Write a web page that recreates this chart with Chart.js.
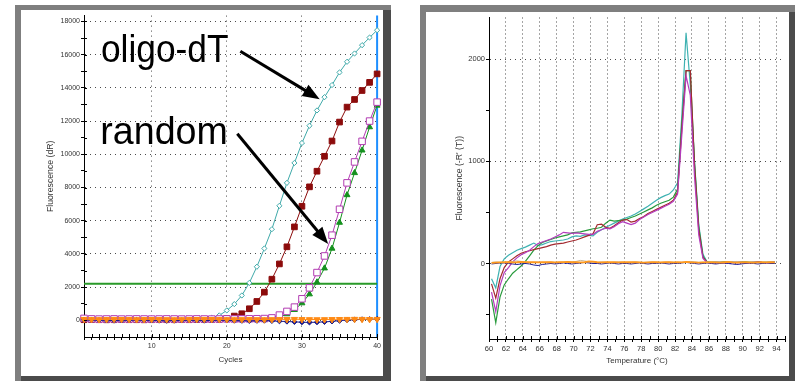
<!DOCTYPE html>
<html>
<head>
<meta charset="utf-8">
<script src="https://cdn.jsdelivr.net/npm/chart.js@4.4.1/dist/chart.umd.min.js"></script>
<style>
  html, body { margin: 0; padding: 0; background: #fff; width: 798px; height: 381px; overflow: hidden; }
  .frame { position: absolute; background: #7f7f7f; }
  .shade { position: absolute; background: #4b4b4b; }
  .paper { position: absolute; background: #fff; }
  canvas { position: absolute; left: 0; top: 0; }
</style>
</head>
<body>
<!-- amplification panel -->
<div class="frame" style="left:15px;top:5px;width:376px;height:376px"></div>
<div class="shade" style="left:383px;top:10px;width:8px;height:371px"></div>
<div class="shade" style="left:21px;top:376px;width:370px;height:5px"></div>
<div class="paper" style="left:21px;top:10px;width:362px;height:366px">
  <canvas id="amp" width="362" height="366"></canvas>
</div>
<!-- melt curve panel -->
<div class="frame" style="left:420px;top:5px;width:375px;height:376px"></div>
<div class="shade" style="left:789px;top:12px;width:6px;height:369px"></div>
<div class="shade" style="left:426px;top:376px;width:369px;height:5px"></div>
<div class="paper" style="left:426px;top:12px;width:363px;height:364px">
  <canvas id="melt" width="363" height="364"></canvas>
</div>

<script>
// ---------- amplification plot ----------
const cycles = [1,2,3,4,5,6,7,8,9,10,11,12,13,14,15,16,17,18,19,20,
                21,22,23,24,25,26,27,28,29,30,31,32,33,34,35,36,37,38,39,40];
const cycleLabels = [10, 20, 30, 40];
const cycleGrid = [10, 20, 30];
const ampTicks = [0,1000,2000,3000,4000,5000,6000,7000,8000,9000,10000,
                  11000,12000,13000,14000,15000,16000,17000,18000];
const ampLabels = [0,2000,4000,6000,8000,10000,12000,14000,16000,18000];

const ampOligoA = [50,55,50,45,50,55,50,50,45,50, 55,50,50,55,60,60,70,150,300,600,
                   980,1500,2260,3230,4330,5490,6900,8280,9480,10680,
                   11720,12640,13440,14170,14930,15570,16070,16570,17030,17470];
const ampOligoB = [40,45,40,35,40,45,40,40,35,40, 45,40,40,45,40,45,50,50,60,120,
                   260,400,700,1140,1700,2480,3400,4430,5630,6870,
                   8040,8980,9880,10800,11940,12840,13300,13840,14330,14840];
const ampRandomA = [120,90,80,85,90,80,85,90,85,80, 85,90,85,80,85,90,85,80,85,90,
                    85,90,95,100,110,150,320,540,800,1300,
                    1960,2880,3880,5130,6690,8280,9540,10780,12000,13140];
const ampRandomB = [50,55,50,45,50,55,50,45,50,55, 50,45,50,55,50,45,50,55,50,45,
                    50,55,50,55,60,80,200,380,640,1040,
                    1580,2300,3140,4330,5890,7550,8880,10240,11640,12940];
const ampNtcA = [70,60,55,60,70,65,60,55,60,65, 60,55,50,55,60,65,70,65,60,55,
                 50,55,60,55,50,55,60,65,70,60, 55,50,55,60,65,70,75,70,65,70];
const ampNtcB = [30,20,10,0,-10,0,10,20,10,0, -10,-20,-10,0,10,0,-10,0,10,0,
                 -10,-20,-30,-20,-10,-30,-50,-70,-90,-110, -120,-110,-90,-60,-20,20,40,60,70,80];
const threshold = 2200;
const lastCycle = 40;

// ---------- melt curve ----------
const temps = [60.3,60.8,61.3,61.8,62.3,62.8,63.3,63.8,64.3,64.8,
               65.3,65.8,66.3,66.8,67.3,67.8,68.3,68.8,69.3,69.8,
               70.3,70.8,71.3,71.8,72.3,72.8,73.3,73.8,74.3,74.8,
               75.3,75.8,76.3,76.8,77.3,77.8,78.3,78.8,79.3,79.8,
               80.3,80.8,81.3,81.8,82.3,82.8,83.3,83.8,84.3,84.8,
               85.3,85.8,86.3,86.8,87.3,87.8,88.3,88.8,89.3,89.8,
               90.3,90.8,91.3,91.8,92.3,92.8,93.3,93.8];
const tempTicks = [60,61,62,63,64,65,66,67,68,69,70,71,72,73,74,75,76,77,78,
                   79,80,81,82,83,84,85,86,87,88,89,90,91,92,93,94,95];
const tempLabels = [60,62,64,66,68,70,72,74,76,78,80,82,84,86,88,90,92,94];
const tempGrid = [62,64,66,68,70,72,74,76,78,80,82,84,86,88,90,92,94];
const meltTicks = [-500,0,500,1000,1500,2000];
const meltLabels = [0,1000,2000];

const meltOligoA = [-150,-240,-30,45,80,105,130,145,160,180,
                    200,175,185,200,215,220,225,230,240,260,
                    270,265,280,275,270,305,330,355,375,395,
                    415,435,450,465,485,510,535,560,590,620,
                    645,665,680,720,790,1450,2260,1750,1000,380,
                    90,15,12,10,12,15,12,10,12,15,
                    12,10,12,15,12,10,12,15];
const meltOligoB = [-200,-340,-150,-40,15,45,75,100,115,125,
                    135,145,155,165,180,190,195,200,210,220,
                    230,245,260,275,290,380,385,355,345,370,
                    400,425,430,405,415,440,460,490,510,530,
                    550,570,590,620,700,1320,1890,1890,960,330,
                    60,10,8,10,8,5,8,10,12,10,
                    8,5,10,15,10,8,10,12];
const meltRandomA = [-280,-470,-220,-90,-40,15,55,85,105,130,
                     165,195,210,225,240,260,280,305,300,295,
                     300,295,290,285,285,315,330,345,340,360,
                     390,410,395,380,395,430,455,480,500,520,
                     540,560,580,610,680,1260,1840,1650,850,280,
                     50,8,6,8,10,8,6,8,10,8,
                     6,8,10,12,8,6,8,10];
const meltRandomB = [-350,-580,-330,-210,-150,-95,-60,-25,20,75,
                     130,175,205,220,235,250,260,270,280,300,
                     305,310,320,330,340,345,355,395,425,415,
                     420,425,435,450,465,485,505,525,545,570,
                     590,605,620,650,730,1370,1890,1890,990,360,
                     70,12,10,12,10,15,12,10,8,12,
                     15,10,12,10,8,10,12,10];
const meltNtcA = [5,8,10,12,12,10,12,15,14,12,
                  12,10,12,14,12,10,12,14,15,12,
                  12,10,12,20,18,12,10,12,14,12,
                  10,12,14,12,12,10,8,10,12,12,
                  10,12,12,10,12,10,15,12,10,8,
                  10,10,12,10,8,12,15,10,8,10,
                  12,10,8,10,12,10,12,10];
const meltNtcB = [-5,0,5,5,0,-5,-10,-5,0,-5,
                  -15,-20,-10,-5,0,-5,0,5,0,-5,
                  0,5,10,5,0,0,-5,0,5,0,
                  -5,0,0,-5,0,5,0,-5,0,0,
                  5,0,-5,0,0,5,10,5,0,-5,
                  0,5,0,-5,0,5,0,-5,-10,-5,
                  0,5,0,-5,0,5,0,0];
const meltNtcC = [10,15,12,10,15,20,25,20,15,10,
                  12,15,10,12,15,10,12,15,18,15,
                  20,30,25,15,12,10,15,12,10,12,
                  15,12,10,12,15,12,10,12,15,12,
                  10,12,15,12,10,12,15,20,15,10,
                  12,15,10,12,15,12,10,15,20,15,
                  10,12,15,12,10,12,15,12];

// callouts on the amplification plot, in data units (cycle, dR)
const callouts = [
  { text: 'oligo-dT', at: [3.26, 15580], from: [21.8, 16200], to: [32.36, 13320] },
  { text: 'random',   at: [3.17, 10640], from: [21.4, 11240], to: [33.49, 4600] }
];

// ---------- helpers ----------
const FONT = '"Liberation Sans", Arial, Helvetica, sans-serif';
const pts = (xs, ys) => xs.map((x, i) => ({ x: x, y: ys[i] }));

// tick marks that cross the axis line (inner half)
const crossTicks = {
  id: 'crossTicks',
  afterDraw(chart, args, opts) {
    const ctx = chart.ctx;
    ctx.save();
    ctx.strokeStyle = '#000';
    ctx.lineWidth = 1;
    (opts.axes || []).forEach(id => {
      const s = chart.scales[id];
      s.ticks.forEach((t, i) => {
        const p = Math.round(s.getPixelForTick(i)) + 0.5;
        ctx.beginPath();
        if (s.isHorizontal()) { ctx.moveTo(p, s.top); ctx.lineTo(p, s.top - opts.len); }
        else { ctx.moveTo(s.right, p); ctx.lineTo(s.right + opts.len, p); }
        ctx.stroke();
      });
    });
    ctx.restore();
  }
};

function drawArrow(ctx, x1, y1, x2, y2) {
  const ang = Math.atan2(y2 - y1, x2 - x1);
  const L = 17, W = 6.5;
  const bx = x2 - L * Math.cos(ang), by = y2 - L * Math.sin(ang);
  ctx.beginPath();
  ctx.moveTo(x1, y1);
  ctx.lineTo(bx + 1.5 * Math.cos(ang), by + 1.5 * Math.sin(ang));
  ctx.lineWidth = 3;
  ctx.strokeStyle = '#000';
  ctx.stroke();
  ctx.beginPath();
  ctx.moveTo(x2, y2);
  ctx.lineTo(bx + W * Math.sin(ang), by - W * Math.cos(ang));
  ctx.lineTo(bx - W * Math.sin(ang), by + W * Math.cos(ang));
  ctx.closePath();
  ctx.fillStyle = '#000';
  ctx.fill();
}

const calloutPlugin = {
  id: 'callouts',
  afterDatasetsDraw(chart) {
    const { ctx, scales: { x, y } } = chart;
    ctx.save();
    ctx.fillStyle = '#000';
    ctx.font = '38px ' + FONT;
    ctx.textBaseline = 'alphabetic';
    ctx.textAlign = 'left';
    callouts.forEach(c => {
      ctx.fillText(c.text, x.getPixelForValue(c.at[0]), y.getPixelForValue(c.at[1]), 127.5);
      drawArrow(ctx, x.getPixelForValue(c.from[0]), y.getPixelForValue(c.from[1]),
                     x.getPixelForValue(c.to[0]), y.getPixelForValue(c.to[1]));
    });
    ctx.restore();
  }
};

function axisCommon(tickList, labelList, gridList, dash) {
  return {
    type: 'linear',
    afterBuildTicks: s => { s.ticks = tickList.map(v => ({ value: v })); },
    ticks: {
      autoSkip: false, maxRotation: 0, minRotation: 0, color: '#333',
      callback: v => labelList.includes(v) ? String(v) : ''
    },
    grid: {
      color: c => (c.tick && gridList.includes(c.tick.value)) ? '#4a4a4a' : 'rgba(0,0,0,0)',
      tickColor: '#000', tickLength: 3, lineWidth: 1, tickWidth: 1
    },
    border: { display: true, color: '#000', width: 1, dash: dash }
  };
}

// ---------- amplification chart ----------
const ampX = axisCommon(cycles, cycleLabels, cycleGrid, [1, 4]);
Object.assign(ampX, { min: 1, max: 40, afterFit: s => { s.height = 39; } });
ampX.ticks.padding = 2;
ampX.ticks.font = { family: FONT, size: 7 };
ampX.title = { display: true, text: 'Cycles', color: '#333', font: { family: FONT, size: 8 }, padding: { top: 0, bottom: 11 } };

const ampY = axisCommon(ampTicks, ampLabels, ampLabels, [1, 4]);
Object.assign(ampY, { min: -1000, max: 18350, afterFit: s => { s.width = 63; } });
ampY.ticks.padding = 1;
ampY.ticks.font = { family: FONT, size: 7 };
ampY.title = { display: true, text: 'Fluorescence (dR)', color: '#333', font: { family: FONT, size: 8.7 }, padding: { top: 24.8, bottom: 0 } };

function ampSet(data, color, style, radius, fill, rotation) {
  return {
    data: pts(cycles, data), borderColor: color, borderWidth: 1,
    pointStyle: style, pointRadius: radius, pointRotation: rotation || 0,
    pointBackgroundColor: fill, pointBorderColor: color, pointBorderWidth: 1,
    clip: false
  };
}

new Chart(document.getElementById('amp'), {
  type: 'line',
  data: {
    datasets: [
      ampSet(ampNtcA, '#ff8a14', 'triangle', 3.6, '#ff8a14', 180),
      ampSet(ampNtcB, '#1c1c8c', 'rectRot', 2.6, '#1c1c8c'),
      ampSet(ampRandomA, '#b23cb2', 'rect', 4.6, '#ffffff'),
      ampSet(ampRandomB, '#14911e', 'triangle', 3.4, '#14911e'),
      ampSet(ampOligoB, '#8c0b0b', 'rect', 4.0, '#8c0b0b'),
      ampSet(ampOligoA, '#3fa9a9', 'rectRot', 2.6, '#ffffff'),
      { data: [{ x: 1, y: threshold }, { x: lastCycle, y: threshold }], borderColor: '#2a9a2a',
        borderWidth: 2, pointRadius: 0, clip: false },
      { data: [{ x: lastCycle, y: -1000 }, { x: lastCycle, y: 18350 }], borderColor: '#1e8fff',
        borderWidth: 2, pointRadius: 0, clip: false }
    ]
  },
  options: {
    responsive: false, animation: false, devicePixelRatio: 1,
    layout: { padding: { top: 5, right: 5, left: 0, bottom: 0 } },
    elements: { line: { tension: 0 } },
    plugins: { legend: { display: false }, tooltip: { enabled: false }, crossTicks: { axes: ['x', 'y'], len: 3 } },
    scales: { x: ampX, y: ampY }
  },
  plugins: [crossTicks, calloutPlugin]
});

// ---------- melt chart ----------
const meltX = axisCommon(tempTicks, tempLabels, tempGrid, [1, 3]);
Object.assign(meltX, { min: 60, max: 95, afterFit: s => { s.height = 37; } });
meltX.ticks.padding = 2;
meltX.ticks.font = { family: FONT, size: 7.5 };
meltX.title = { display: true, text: 'Temperature (°C)', color: '#333', font: { family: FONT, size: 8 }, padding: { top: 0, bottom: 10.2 } };

const meltY = axisCommon(meltTicks, meltLabels, meltLabels, [1, 4]);
Object.assign(meltY, { min: -740, max: 2410, afterFit: s => { s.width = 63; } });
meltY.ticks.padding = 1;
meltY.ticks.font = { family: FONT, size: 7.5 };
meltY.title = { display: true, text: "Fluorescence (-R' (T))", color: '#333', font: { family: FONT, size: 8.7 }, padding: { top: 28.8, bottom: 0 } };

function meltSet(data, color, width) {
  return { data: pts(temps, data), borderColor: color, borderWidth: width || 1.2, pointRadius: 0 };
}

new Chart(document.getElementById('melt'), {
  type: 'line',
  data: {
    datasets: [
      meltSet(meltNtcA, '#ff9a1e', 1.8),
      meltSet(meltNtcB, '#1c1c96', 1),
      meltSet(meltNtcC, '#c8b496', 1),
      meltSet(meltRandomA, '#b43cbe'),
      meltSet(meltOligoB, '#a3292f'),
      meltSet(meltRandomB, '#289a3c'),
      meltSet(meltOligoA, '#3fb2b2')
    ]
  },
  options: {
    responsive: false, animation: false, devicePixelRatio: 1,
    layout: { padding: { top: 4, right: 4, left: 0, bottom: 0 } },
    elements: { line: { tension: 0 } },
    plugins: { legend: { display: false }, tooltip: { enabled: false }, crossTicks: { axes: ['x'], len: 3 } },
    scales: { x: meltX, y: meltY }
  },
  plugins: [crossTicks]
});
</script>
</body>
</html>
